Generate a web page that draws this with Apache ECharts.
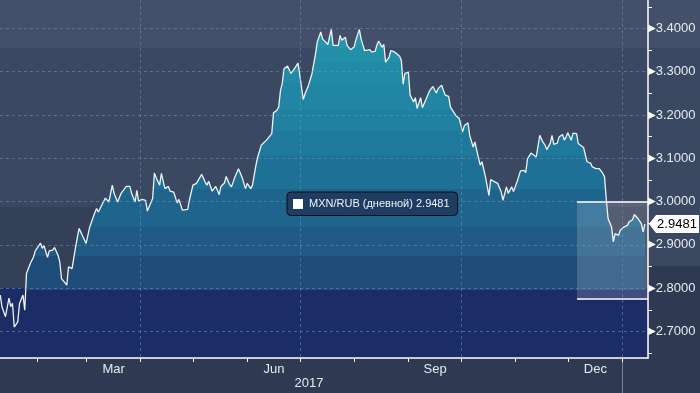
<!DOCTYPE html>
<html><head><meta charset="utf-8">
<script src="https://cdn.jsdelivr.net/npm/echarts@6/dist/echarts.min.js"></script>
<style>html,body{margin:0;padding:0;background:#3b4862;}#c{width:700px;height:393px;}</style>
</head><body><div id="c"></div>
<script>
const seriesName = 'MXN/RUB (дневной)';
const yearLabel = '2017';
const dates = [
'2017-01-11','2017-01-12','2017-01-14','2017-01-15','2017-01-16','2017-01-17','2017-01-18','2017-01-19','2017-01-21','2017-01-22','2017-01-24','2017-01-25','2017-01-26','2017-01-28','2017-01-30','2017-01-31',
'2017-02-03','2017-02-04','2017-02-05','2017-02-07','2017-02-08','2017-02-10','2017-02-11','2017-02-13','2017-02-14','2017-02-15','2017-02-16','2017-02-18','2017-02-19','2017-02-21','2017-02-23','2017-02-25','2017-02-26',
'2017-03-01','2017-03-03','2017-03-04','2017-03-06','2017-03-07','2017-03-08','2017-03-10','2017-03-11','2017-03-12','2017-03-14','2017-03-16','2017-03-17','2017-03-19','2017-03-21','2017-03-24','2017-03-26','2017-03-27','2017-03-29','2017-03-30','2017-03-31',
'2017-04-02','2017-04-04','2017-04-05','2017-04-08','2017-04-09','2017-04-10','2017-04-12','2017-04-13','2017-04-15','2017-04-17','2017-04-18','2017-04-20','2017-04-22','2017-04-23','2017-04-25','2017-04-26','2017-04-28','2017-04-29',
'2017-05-01','2017-05-03','2017-05-04','2017-05-06','2017-05-08','2017-05-09','2017-05-10','2017-05-12','2017-05-14','2017-05-15','2017-05-16','2017-05-17','2017-05-19','2017-05-20','2017-05-22','2017-05-23','2017-05-25','2017-05-27','2017-05-29','2017-05-30','2017-05-31',
'2017-06-01','2017-06-03','2017-06-04','2017-06-06','2017-06-07','2017-06-09','2017-06-10','2017-06-12','2017-06-15','2017-06-16','2017-06-18','2017-06-19','2017-06-20','2017-06-21','2017-06-22','2017-06-24','2017-06-26','2017-06-28','2017-06-30',
'2017-07-01','2017-07-03','2017-07-04','2017-07-06','2017-07-08','2017-07-10','2017-07-11','2017-07-13','2017-07-14','2017-07-15','2017-07-17','2017-07-19','2017-07-20','2017-07-21','2017-07-23','2017-07-24','2017-07-25','2017-07-27','2017-07-28','2017-07-30',
'2017-08-01','2017-08-02','2017-08-04','2017-08-05','2017-08-07','2017-08-08','2017-08-10','2017-08-11','2017-08-13','2017-08-14','2017-08-15','2017-08-17','2017-08-18','2017-08-19','2017-08-21','2017-08-22','2017-08-24','2017-08-25','2017-08-27','2017-08-28','2017-08-29','2017-08-30',
'2017-09-01','2017-09-02','2017-09-03','2017-09-04','2017-09-05','2017-09-06','2017-09-08','2017-09-09','2017-09-11','2017-09-12','2017-09-13','2017-09-15','2017-09-17','2017-09-18','2017-09-20','2017-09-21','2017-09-22','2017-09-24','2017-09-25','2017-09-26','2017-09-28','2017-09-30',
'2017-10-02','2017-10-03','2017-10-05','2017-10-06','2017-10-08','2017-10-09','2017-10-10','2017-10-12','2017-10-13','2017-10-15','2017-10-17','2017-10-18','2017-10-20','2017-10-22','2017-10-24','2017-10-25','2017-10-27','2017-10-28','2017-10-30','2017-10-31',
'2017-11-02','2017-11-03','2017-11-04','2017-11-06','2017-11-07','2017-11-08','2017-11-10','2017-11-11','2017-11-13','2017-11-14','2017-11-15','2017-11-17','2017-11-18','2017-11-19','2017-11-21','2017-11-22','2017-11-23','2017-11-25','2017-11-26','2017-11-28','2017-11-29','2017-11-30',
'2017-12-01','2017-12-03','2017-12-04','2017-12-05','2017-12-06','2017-12-07','2017-12-08','2017-12-10','2017-12-11','2017-12-12','2017-12-14','2017-12-15','2017-12-17','2017-12-18','2017-12-19','2017-12-21','2017-12-22','2017-12-23','2017-12-24','2017-12-26','2017-12-27','2017-12-28','2017-12-30','2017-12-31',
'2018-01-02','2018-01-04','2018-01-05','2018-01-07','2018-01-08','2018-01-10','2018-01-11','2018-01-12','2018-01-13','2018-01-14'
];
const values = [
2.784,2.757,2.734,2.731,2.777,2.757,2.765,2.710,2.722,2.764,2.784,2.749,2.834,2.855,2.872,2.886,
2.904,2.892,2.898,2.871,2.886,2.888,2.894,2.876,2.861,2.822,2.825,2.807,2.849,2.845,2.894,2.938,2.936,
2.903,2.940,2.940,2.974,2.984,2.976,2.992,2.995,3.008,2.999,3.038,3.019,2.999,3.019,3.035,3.035,3.019,2.999,3.026,3.001,
3.005,3.003,2.978,3.007,3.066,3.055,3.038,3.065,3.030,3.035,3.024,3.022,2.997,3.005,2.980,2.976,2.982,3.003,
3.038,3.042,3.042,3.063,3.045,3.038,3.047,3.024,3.035,3.026,3.016,3.035,3.043,3.058,3.039,3.034,3.057,3.076,3.057,3.061,3.030,
3.042,3.030,3.038,3.084,3.103,3.130,3.130,3.142,3.157,3.205,3.211,3.219,3.257,3.273,3.307,3.313,3.296,3.307,3.320,
3.292,3.236,3.249,3.269,3.296,3.342,3.369,3.392,3.376,3.379,3.363,3.398,3.361,3.365,3.361,3.384,3.373,3.380,3.361,3.351,
3.357,3.373,3.398,3.376,3.349,3.346,3.351,3.346,3.347,3.361,3.371,3.357,3.363,3.322,3.334,3.349,3.346,3.342,3.336,3.326,3.271,3.296,
3.299,3.246,3.238,3.230,3.240,3.215,3.240,3.217,3.236,3.240,3.255,3.266,3.251,3.261,3.269,3.273,3.246,3.243,3.219,3.216,3.199,3.192,
3.161,3.176,3.182,3.153,3.126,3.138,3.119,3.084,3.092,3.057,3.014,3.051,3.046,3.042,3.022,3.003,3.034,3.019,3.034,3.023,
3.045,3.045,3.071,3.072,3.067,3.099,3.112,3.109,3.103,3.105,3.153,3.136,3.131,3.120,3.135,3.153,3.132,3.135,3.149,3.155,3.142,3.149,
3.159,3.142,3.158,3.161,3.157,3.134,3.138,3.125,3.122,3.092,3.089,3.080,3.076,3.080,3.076,3.065,3.057,3.003,2.961,2.941,2.907,2.926,2.922,2.934,
2.941,2.945,2.953,2.958,2.970,2.961,2.958,2.949,2.930,2.9481
];
const yLabelValues = [2.7,2.8,2.9,3.0,3.1,3.2,3.3,3.4];
const yTickValues = [2.65,2.7,2.75,2.8,2.85,2.9,2.95,3.0,3.05,3.1,3.15,3.2,3.25,3.3,3.35,3.4,3.45];
const monthTickDates = ['2017-02-01','2017-03-01','2017-04-01','2017-05-01','2017-06-01','2017-07-01','2017-08-01','2017-09-01','2017-10-01','2017-11-01','2017-12-01','2018-01-01'];
const monthLabelDates = ['2017-03-16 18','2017-06-16 06','2017-09-16 06','2017-12-16 18'];
const monthNames = ['Jan','Feb','Mar','Apr','May','Jun','Jul','Aug','Sep','Oct','Nov','Dec'];
const quarterDates = ['2017-04-01','2017-07-01','2017-10-01','2018-01-01'];
const yearBreakDates = ['2018-01-01'];
const xMinDate = '2017-01-10 21';
const xMaxDate = '2018-01-15 19';
const yMin = 2.6385, yMax = 3.4658;
const rectStartDate = '2017-12-06 06';
const rectLow = 2.7744, rectHigh = 3.0;

function ts(s){ const p = s.split(' '); const d = p[0].split('-').map(Number); const h = p[1] ? +p[1] : 0; return new Date(d[0], d[1]-1, d[2], h).getTime(); }
const xMin = ts(xMinDate), xMax = ts(xMaxDate);
const lastValue = values[values.length-1];
const seriesData = dates.map((d,i)=>[ts(d), values[i]]);

const chart = echarts.init(document.getElementById('c'), null, {renderer:'canvas'});
const FONT = 'Liberation Sans, Arial, sans-serif';
const areaGrad = new echarts.graphic.LinearGradient(0, 0, 0, 358, [
  {offset:0, color:'#2595ad'},{offset:0.134, color:'#2595ad'},
  {offset:0.134, color:'#2390aa'},{offset:0.173, color:'#2390aa'},
  {offset:0.173, color:'#218ba7'},{offset:0.232, color:'#218ba7'},
  {offset:0.232, color:'#2086a4'},{offset:0.307, color:'#2086a4'},
  {offset:0.307, color:'#1f80a0'},{offset:0.366, color:'#1f80a0'},
  {offset:0.366, color:'#1f799c'},{offset:0.436, color:'#1f799c'},
  {offset:0.436, color:'#1f7096'},{offset:0.528, color:'#1f7096'},
  {offset:0.528, color:'#1f648d'},{offset:0.634, color:'#1f648d'},
  {offset:0.634, color:'#1f5984'},{offset:0.715, color:'#1f5984'},
  {offset:0.715, color:'#1e4d7a'},{offset:0.81, color:'#1e4d7a'},
  {offset:0.81, color:'#1c2c66'},{offset:1, color:'#1c2c66'}
], true);

const gridLine = {show:true, lineStyle:{color:'rgba(110,150,180,0.55)', type:[3,3], width:1}};

const option = {
  animation:false,
  backgroundColor:'#3b4862',
  graphic:[
    {type:'rect', z:-10, shape:{x:0,y:0,width:700,height:48}, style:{fill:'#445069'}},
    {type:'rect', z:-10, shape:{x:649,y:266,width:51,height:127}, style:{fill:'#2f3a52'}},
    {type:'rect', z:-10, shape:{x:0,y:359,width:700,height:34}, style:{fill:'#2f3a52'}},
    {type:'text', z:10, style:{text:yearLabel, x:309, y:383, fill:'#e6e9ee', font:'13px Liberation Sans, Arial', textAlign:'center', textVerticalAlign:'middle'}}
  ],
  grid:{left:0, right:52, top:0, bottom:35, containLabel:false},
  legend:{
    z:20,
    data:[{name:seriesName, icon:'none'}],
    left:287, top:192, itemWidth:0, itemHeight:12, itemGap:0,
    padding:[6,8,6,1], backgroundColor:'#1f3d62', borderColor:'#0c0f16', borderWidth:1, borderRadius:4,
    selectedMode:false,
    textStyle:{color:'#eef2f7', fontSize:11, fontFamily:FONT,
      rich:{sq:{width:10, height:10, backgroundColor:'#ffffff'}, t:{color:'#eef2f7', fontSize:11, fontFamily:FONT, padding:[0,0,0,6]}}},
    formatter: n => '{sq|}{t|' + n + ' ' + lastValue.toFixed(4) + '}'
  },
  xAxis:[
    {type:'value', min:xMin, max:xMax, position:'bottom', z:6,
     axisLine:{show:true, lineStyle:{color:'#ffffff', width:1.5}},
     axisTick:{show:true, length:4, lineStyle:{color:'#ffffff', width:1}, customValues: monthTickDates.map(ts)},
     axisLabel:{show:true, color:'#e6e9ee', fontSize:13, fontFamily:FONT, margin:5, customValues: monthLabelDates.map(ts),
       formatter: v => monthNames[new Date(v).getMonth()]},
     splitLine:{show:false}},
    {type:'value', min:xMin, max:xMax, position:'bottom', z:5,
     axisLine:{show:false}, axisLabel:{show:false},
     axisTick:{show:false, customValues: quarterDates.map(ts)},
     splitLine:gridLine},
    {type:'value', min:xMin, max:xMax, position:'bottom', z:5,
     axisLine:{show:false}, axisLabel:{show:false},
     axisTick:{show:true, length:35, lineStyle:{color:'#7a8496', width:1}, customValues: yearBreakDates.map(ts)},
     splitLine:{show:false}}
  ],
  yAxis:[
    {type:'value', min:yMin, max:yMax, position:'right', z:6,
     axisLine:{show:true, lineStyle:{color:'#ffffff', width:1.5}},
     axisTick:{show:true, length:4, lineStyle:{color:'#ffffff', width:1}, customValues: yTickValues},
     axisLabel:{show:true, margin:0, customValues: yLabelValues,
       formatter: v => '{t|▶}{v|' + v.toFixed(4) + '}',
       rich:{t:{fontSize:10, color:'#ffffff', fontFamily:'DejaVu Sans'}, v:{fontSize:13, color:'#e7ebf1', fontFamily:FONT}}},
     splitLine:{show:false}},
    {type:'value', min:yMin, max:yMax, position:'right', z:5,
     axisLine:{show:false}, axisLabel:{show:false},
     axisTick:{show:false, customValues: yLabelValues},
     splitLine:gridLine}
  ],
  series:[
    {type:'line', data:[], z:1, silent:true, xAxisIndex:0, yAxisIndex:0,
     markArea:{silent:true, z:1, data:[
       [{yAxis:yMin, itemStyle:{color:'#1c2c66'}},{yAxis:2.8}],
       [{yAxis:2.8, itemStyle:{color:'#343f58'}},{yAxis:2.987}]
     ]}},
    {name:seriesName, type:'line', data:seriesData, z:3, xAxisIndex:0, yAxisIndex:0,
     showSymbol:false, symbol:'none',
     lineStyle:{color:'#eef2f7', width:1.3},
     itemStyle:{color:'#ffffff'},
     areaStyle:{color:areaGrad, opacity:1, origin:'start'},
     markPoint:{silent:true, z:7, symbol:'path://M0,9 L7,0 L50,0 L50,18 L7,18 Z', symbolSize:[50,18], symbolOffset:[26,0],
       itemStyle:{color:'#ffffff'},
       label:{show:true, position:'inside', offset:[3,0], color:'#000000', fontSize:13, fontFamily:FONT, formatter: p => p.value.toFixed(4)},
       data:[{coord:[xMax, lastValue], value:lastValue}]}},
    {type:'line', data:[], z:4, silent:true, xAxisIndex:0, yAxisIndex:0,
     markArea:{silent:true, z:4, data:[
       [{xAxis:ts(rectStartDate), yAxis:rectLow, itemStyle:{color:'rgba(255,255,255,0.16)'}},{xAxis:xMax, yAxis:rectHigh}]
     ]},
     markLine:{silent:true, z:6, symbol:['none','none'], label:{show:false}, lineStyle:{color:'#ffffff', width:1.5, type:'solid'},
       data:[
         [{coord:[ts(rectStartDate), rectHigh]},{coord:[xMax, rectHigh]}],
         [{coord:[ts(rectStartDate), rectLow]},{coord:[xMax, rectLow]}]
       ]}}
  ]
};
chart.setOption(option);
</script></body></html>
